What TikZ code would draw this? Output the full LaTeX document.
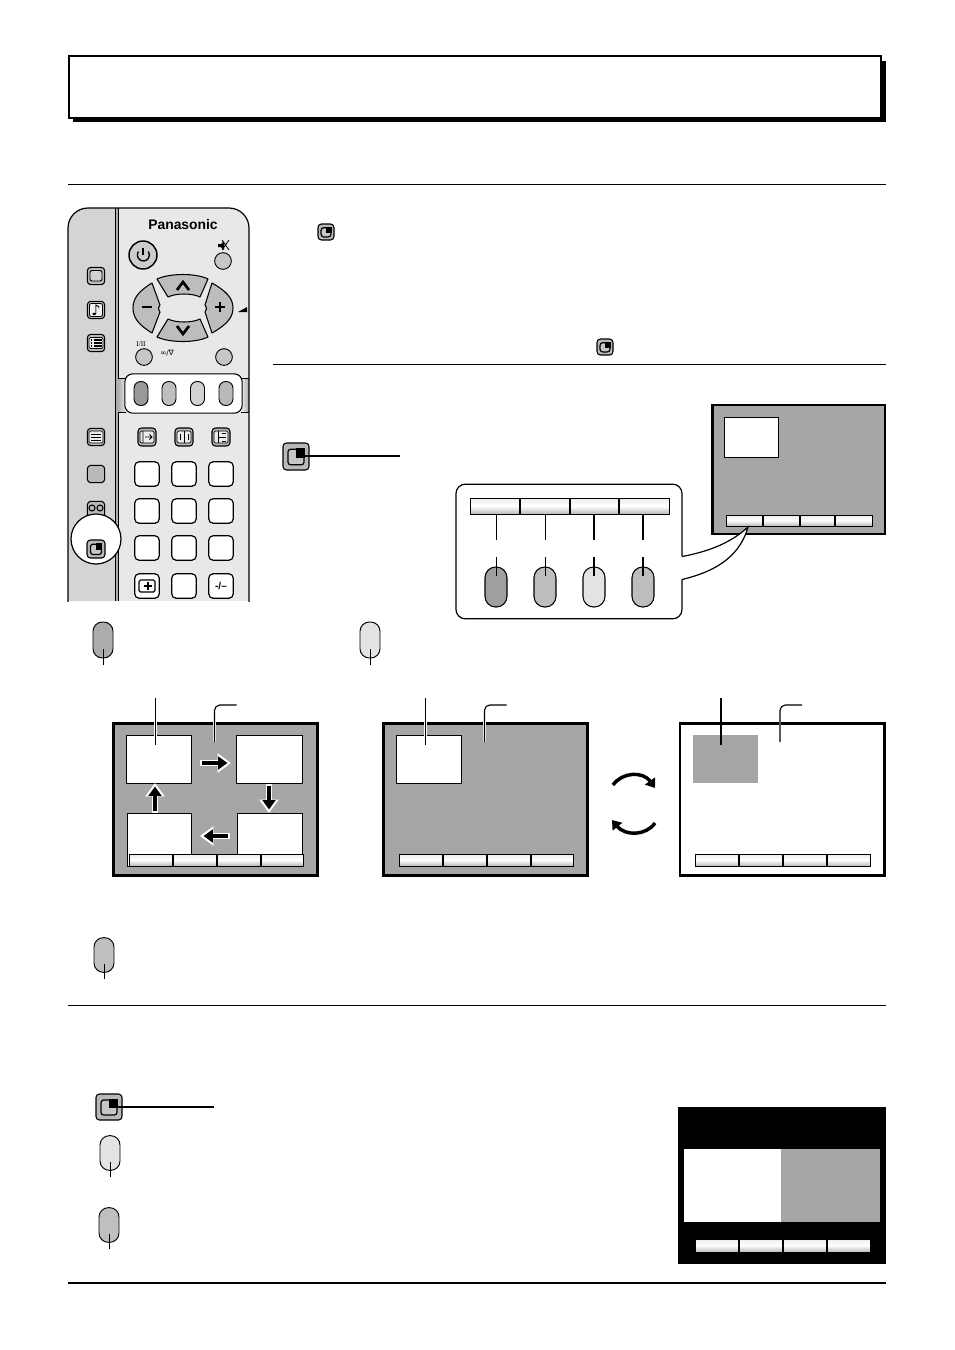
\documentclass[tikz,border=0pt]{standalone}
\usepackage{fontspec}
\setmainfont{Liberation Sans}
\newfontfamily\djv{DejaVu Sans}
\newfontfamily\serifsm{Liberation Serif}
\usetikzlibrary{arrows.meta,calc,shapes.geometric}
\definecolor{tvgray}{gray}{.65}
\definecolor{panelL}{gray}{.83}
\definecolor{panelR}{gray}{.91}
\tikzset{
 pill/.style={draw,line width=.7pt,rounded corners=7pt,minimum width=15pt,minimum height=26.5pt,inner sep=0pt},
 pillbig/.style={draw,line width=.8pt,rounded corners=8pt,minimum width=16.5pt,minimum height=30pt,inner sep=0pt},
 pillsm/.style={draw,line width=.7pt,rounded corners=5pt,minimum width=10.5pt,minimum height=18pt,inner sep=0pt},
 leader/.style={line width=.85pt},
 thinleader/.style={line width=.65pt},
 sqbtn/.style={draw,line width=.8pt,rounded corners=2.6pt,inner sep=0pt,minimum size=13pt,fill=gray!55!white},
 numbtn/.style={draw,line width=.9pt,rounded corners=3.5pt,fill=white,inner sep=0pt,minimum size=18.5pt},
 rnd/.style={circle,draw,line width=.7pt,inner sep=0pt,minimum size=12.5pt,fill=gray!45!white},
 screen/.style={draw,line width=2.2pt,fill=tvgray},
 subpic/.style={draw,line width=.6pt,fill=white},
 softbar/.style={draw,line width=.6pt,top color=gray!15!white,bottom color=gray!55!white,middle color=white},
 whitearrow/.style={line width=4.2pt,white,-{Triangle[length=10pt,width=14pt]}},
 blackarrow/.style={line width=2.5pt,black,-{Triangle[length=7pt,width=9.5pt]}},
 dpad/.style={draw,line width=.8pt,fill=gray!52!white,line join=round},
 swaparrow/.style={line width=2.6pt,-{Triangle[length=6.5pt,width=9pt]}},
}
% softkey bar: x1 y1 x2 y2 d1 d2 d3
\newcommand\softkeys[7]{%
 \path[softbar] (#1,#2) rectangle (#3,#4);
 \draw[line width=.8pt] (#5,#2)--(#5,#4) (#6,#2)--(#6,#4) (#7,#2)--(#7,#4);
}
% pip button: name x y width height
\newcommand\pipbtn[5]{%
 \node[sqbtn,minimum width=#4*.75pt,minimum height=#5*.75pt,fill=gray!55!white] (#1) at (#2,#3) {};
 \begin{scope}[shift={(#2,#3)},x=#4*.75pt/26,y=-#5*.75pt/26]
  \draw[line width=.9pt,rounded corners=2pt,fill=gray!45!white] (-8,8) rectangle (8,-7);
  \fill (0,-8) rectangle (9,1);
 \end{scope}
}
\begin{document}
\begin{tikzpicture}[x=.75pt,y=-.75pt]
\useasboundingbox (0,0) rectangle (954,1350);
\fill[white] (0,0) rectangle (954,1350);

% title box
\fill (73,61) rectangle (886,122);
\draw[line width=.9pt,fill=white] (69,56) rectangle (881,118);

% rules
\coordinate (r1a) at (68,184); \coordinate (r1b) at (886,184);
\coordinate (r2a) at (273,364.5); \coordinate (r2b) at (886,364.5);
\coordinate (r3a) at (68,1005.5); \coordinate (r3b) at (886,1005.5);
\coordinate (r4a) at (68,1283); \coordinate (r4b) at (886,1283);
\draw[line width=.6pt] (r1a)--(r1b) (r2a)--(r2b) (r3a)--(r3b);
\draw[line width=1.9pt] (r4a)--(r4b);

% remote body
\fill[panelR,rounded corners=15pt] (116,620) -- (116,208) -- (249,208) -- (249,620) -- cycle;
\fill[panelL,rounded corners=15pt] (68,620) -- (68,208) -- (130,208) -- (130,620) -- cycle;
\fill[panelR] (116,601) rectangle (130,208);
\fill[white] (60,601) rectangle (255,625);
\fill[gray!65!white] (115.5,208) rectangle (118,601);
\draw[line width=.7pt] (115.5,208)--(115.5,601) (118,208)--(118,601);
% band behind the colour keys
\path[left color=gray!65!white,right color=gray!15!white] (118,378) rectangle (126,412);
\path[left color=gray!15!white,right color=gray!65!white] (241,378) rectangle (249,412);
\draw[line width=.6pt] (118,378)--(126,378) (118,412)--(126,412) (241,378)--(249,378) (241,412)--(249,412);
\begin{scope}
\clip (60,200) rectangle (260,601);
\draw[line width=.9pt,rounded corners=15pt] (68,640) -- (68,208) -- (249,208) -- (249,640);
\end{scope}

\node[font=\bfseries,inner sep=0pt] (brand) at (183,225) {\fontsize{10.4}{10}\selectfont Panasonic};

% power & mute
\node[circle,draw,line width=1.1pt,fill=gray!40!white,minimum size=21pt,inner sep=0pt] (power) at (143,255) {};
\draw[line width=1.1pt] (143,248) -- (143,255);
\draw[line width=1pt] (138.5,251.5) arc[start angle=215,end angle=-35,radius=6];
\node[rnd] (mute) at (223,261) {};
\fill (218,244) -- (221,244) -- (224,241) -- (224,250) -- (221,247) -- (218,247) -- cycle;
\draw[line width=.6pt] (222,240) -- (229,250) (229,240) -- (222,250);

% direction keys
\path[dpad] (157,279) .. controls (170,273) and (196,273) .. (208,279) -- (200,297) .. controls (192,293) and (176,293) .. (168,297) -- cycle;
\path[dpad] (168,319) .. controls (176,323) and (192,323) .. (200,319) -- (208,337) .. controls (196,343) and (170,343) .. (157,337) -- cycle;
\path[dpad] (152,283) -- (160,305) .. controls (158,308) and (158,310) .. (160,312) -- (152,333) .. controls (139,325) and (133,318) .. (133,308) .. controls (133,298) and (139,291) .. (152,283) -- cycle;
\path[dpad] (212,283) .. controls (226,291) and (233,298) .. (233,308) .. controls (233,318) and (226,325) .. (212,333) -- (205,312) .. controls (207,310) and (207,308) .. (205,305) -- cycle;
\draw[line width=2pt] (177,290) -- (183,282) -- (189,290);
\draw[line width=2pt] (177,326) -- (183,334) -- (189,326);
\draw[line width=2pt] (142,307) -- (152,307);
\draw[line width=2pt] (215,307) -- (225,307) (220,302) -- (220,312);
\fill (238,312) -- (247,312) -- (247,307) -- cycle;

\node[font=\serifsm,inner sep=0pt] (lab1) at (141,344) {\fontsize{5.5}{5.5}\selectfont I/II};
\node[font=\djv,inner sep=0pt] (lab2) at (167,353) {\fontsize{5.5}{5.5}\selectfont ∞/∇};
\node[rnd] (b1) at (144,357) {};
\node[rnd] (b2) at (224,357) {};

% colour keys on remote
\node[draw,line width=.8pt,fill=white,rounded corners=6pt,minimum width=88pt,minimum height=29.5pt,inner sep=0pt] (band) at (183.5,393.5) {};
\node[pillsm,fill=gray!80!white] (k1) at (141,393.5) {};
\node[pillsm,fill=gray!50!white] (k2) at (169,393.5) {};
\node[pillsm,fill=gray!35!white] (k3) at (197.5,393.5) {};
\node[pillsm,fill=gray!55!white] (k4) at (226,393.5) {};

% left column
\node[sqbtn] (s1) at (96,276) {};
\draw[line width=.7pt,rounded corners=1.5pt,fill=gray!35!white] (90,270.5) rectangle (102,281);
\node[sqbtn] (s2) at (96,310) {};
\draw[line width=.5pt,rounded corners=1pt,fill=gray!10!white] (89.5,303.5) rectangle (102.5,316.5);
\node[font=\djv\bfseries,inner sep=0pt] (note) at (96,310) {\fontsize{11}{11}\selectfont ♪};
\node[sqbtn] (s3) at (96,343) {};
\draw[line width=.5pt,fill=gray!15!white,rounded corners=1pt] (89,337.5) rectangle (103,348.5);
\draw[line width=.8pt] (90.5,340)--(92,340) (94,340)--(101.5,340) (90.5,343)--(92,343) (94,343)--(101.5,343) (90.5,346)--(92,346) (94,346)--(101.5,346);
\node[sqbtn] (s4) at (96,437) {};
\draw[line width=.5pt,fill=gray!15!white,rounded corners=1pt] (89,431) rectangle (103,443);
\draw[line width=.7pt] (91,434)--(101,434) (91,437)--(101,437) (91,440)--(101,440);
\node[sqbtn] (s5) at (96,474) {};
\node[sqbtn] (s6) at (96,510) {};
\draw[line width=.8pt] (92,508) circle[radius=3] (100,508) circle[radius=3];

% row of three
\foreach \n/\x in {t1/147,t2/184,t3/221}{
 \node[sqbtn,minimum size=13.5pt] (\n) at (\x,437) {};
 \draw[line width=.5pt,fill=gray!15!white,rounded corners=1pt] (\x-7,431) rectangle (\x+7,443);
}
\draw[line width=.7pt] (143,431)--(143,443) (145,437)--(152,437) (149.5,434.5)--(152,437)--(149.5,439.5);
\draw[line width=.7pt] (180,434)--(180,440) (184,431)--(184,443) (188,434)--(188,440);
\draw[line width=.7pt] (218,431)--(218,443) (218,437)--(226,437) (222,433)--(226,433) (222,441)--(226,441);

% number keys
\foreach \n/\x/\y in {n1/147/474,n2/184/474,n3/221/474,n4/147/511,n5/184/511,n6/221/511,n7/147/548,n8/184/548,n9/221/548,n10/147/586,n11/184/586,n12/221/586}{
 \node[numbtn] (\n) at (\x,\y) {};
}
\draw[line width=.9pt,rounded corners=1.2pt] (139,580) rectangle (155,592);
\draw[line width=.9pt] (144,586)--(152,586) (148,582)--(148,590);
\node[font=\bfseries,inner sep=0pt] (dash) at (221,586) {\fontsize{7.5}{7.5}\selectfont -/--};

% magnifier
\node[circle,draw,line width=.9pt,fill=white,minimum size=37.5pt,inner sep=0pt] (mag) at (96,539) {};
\pipbtn{p0}{96}{549}{18}{18}

% inline pip icons
\pipbtn{p1}{326}{232}{16}{16}
\pipbtn{p2}{605}{347}{16}{16}

% big pip with leader
\pipbtn{p3}{296}{456.5}{26}{27}
\coordinate (p3e) at (400,456);
\draw[line width=.8pt] ($(p3.center)+(5,-.5)$) -- (p3e);

% top-right screen
\draw[screen] (712.5,405) rectangle (885,534);
\node[subpic,minimum width=41pt,minimum height=30pt,inner sep=0pt] (sA) at (751.5,437) {};
\softkeys{726}{515}{872}{526}{763}{800}{835}

% popup
\node[draw,line width=.9pt,fill=white,rounded corners=7pt,minimum width=169.5pt,minimum height=101pt,inner sep=0pt] (pop) at (569,551.5) {};
\coordinate (tip) at (748,527);
\fill[white] (681,556.5) .. controls (712,551) and (733,541) .. (tip) .. controls (741,552) and (722,570) .. (681,579.5) -- cycle;
\draw[line width=.9pt] (682,556.5) .. controls (712,551) and (733,541) .. (tip) .. controls (741,552) and (722,570) .. (682,579.5);
\softkeys{470}{498}{669}{514}{520}{570}{619}
\foreach \n/\x/\g/\w in {o1/496/75/thinleader,o2/545/52/thinleader,o3/594/22/leader,o4/643/52/leader}{
 \node[pillbig,fill=gray!\g!white] (\n) at (\x,587) {};
 \coordinate (\n a) at (\x,514); \coordinate (\n b) at (\x,540);
 \coordinate (\n c) at (\x,557);
 \draw[\w] (\n a)--(\n b);
 \draw[\w] (\n c)--($(\n.north)+(0,10)$);
}

% single keys and their leaders
\node[pill,minimum height=27pt,fill=gray!65!white] (g1) at (103,640) {};
\node[pill,minimum height=27pt,fill=gray!22!white] (g2) at (370,640) {};
\node[pill,minimum height=26pt,fill=gray!50!white] (g3) at (104,955) {};
\node[pill,minimum height=26pt,fill=gray!22!white] (g4) at (110,1153) {};
\node[pill,minimum height=26pt,fill=gray!50!white] (g5) at (109,1225) {};
\foreach \n in {g1,g2,g3,g4,g5}{
 \draw[thinleader] ($(\n.south)+(0,-9)$) -- ($(\n.south)+(0,6.5)$);
}

% three large screens
\path[screen] (113.5,723.5) rectangle (317.5,875.5);
\path[screen] (383.5,723.5) rectangle (587.5,875.5);
\path[screen,fill=white] (680,723.5) rectangle (884.5,875.5);

\node[subpic,minimum width=48.5pt,minimum height=35.5pt,inner sep=0pt] (w1) at (159,759.5) {};
\node[subpic,minimum width=49pt,minimum height=35.5pt,inner sep=0pt] (w2) at (269.5,759.5) {};
\path[subpic] (127,813) rectangle (191,866);
\path[subpic] (237,813) rectangle (302,866);
\softkeys{129}{854}{303}{866}{173}{217}{261}

\node[subpic,minimum width=48.5pt,minimum height=35.5pt,inner sep=0pt] (w3) at (429,759.5) {};
\softkeys{399}{854}{573}{866}{443}{487}{531}

\node[fill=tvgray,minimum width=48.5pt,minimum height=36pt,inner sep=0pt] (w4) at (725.5,759) {};
\softkeys{695}{854}{870}{866}{739}{783}{827}

% moving arrows
\coordinate (a1) at (200,763); \coordinate (a2) at (231,763);
\coordinate (a3) at (269,784); \coordinate (a4) at (269,813);
\coordinate (a5) at (230,836); \coordinate (a6) at (200,836);
\coordinate (a7) at (155,813); \coordinate (a8) at (155,783);
\draw[whitearrow] (a1)--(a2); \draw[whitearrow] (a3)--(a4); \draw[whitearrow] (a5)--(a6); \draw[whitearrow] (a7)--(a8);
\draw[blackarrow] ($(a1)+(2,0)$)--($(a2)+(-3.5,0)$);
\draw[blackarrow] ($(a3)+(0,2)$)--($(a4)+(0,-3.5)$);
\draw[blackarrow] ($(a5)+(-2,0)$)--($(a6)+(3.5,0)$);
\draw[blackarrow] ($(a7)+(0,-2)$)--($(a8)+(0,3.5)$);

% straight + elbow leaders
\foreach \n/\x/\e/\w in {l1/155.5/214.5/leader,l2/425.5/484.5/leader,l3/721/780/leader}{
 \coordinate (\n a) at (\x,698); \coordinate (\n b) at (\x,745);
 \draw[white,line width=1.8pt] ($(\n a)+(0,23)$)--(\n b);
 \draw[\w] (\n a)--(\n b);
 \coordinate (\n c) at (\e+22,705); \coordinate (\n d) at (\e,742);
 \draw[white,line width=1.8pt] (\e,721)--(\n d);
 \draw[\w,rounded corners=4pt] (\n c)--(\e,705)--(\n d);
}

% swap arrows
\coordinate (c1) at (613,785); \coordinate (c2) at (655,788);
\coordinate (c3) at (655,823); \coordinate (c4) at (612,820);
\draw[swaparrow] (c1) .. controls (622,772) and (643,771) .. (c2);
\draw[swaparrow] (c3) .. controls (646,836) and (625,836) .. (c4);

% lower section
\pipbtn{p4}{109}{1107}{26}{26}
\coordinate (p4e) at (214,1107);
\draw[line width=1.6pt] ($(p4.center)+(7,0)$) -- (p4e);

\fill (678,1107) rectangle (886,1264);
\node[fill=white,minimum width=73pt,minimum height=55pt,inner sep=0pt] (w5) at (732.5,1185.5) {};
\node[fill=tvgray,minimum width=74.5pt,minimum height=55pt,inner sep=0pt] (w6) at (830.5,1185.5) {};
\softkeys{695}{1239}{870}{1252}{739}{783}{827}
\end{tikzpicture}
\end{document}
